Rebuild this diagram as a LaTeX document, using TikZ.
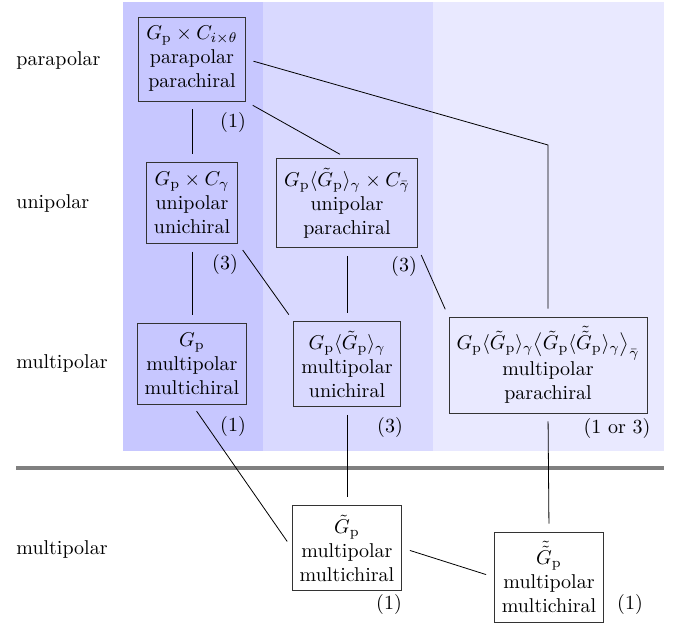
\documentclass[tikz,border=0pt]{standalone}
\usepackage{amsmath,amssymb}
\usepackage{tikz}
\usetikzlibrary{calc}
\usepackage{xcolor}
\definecolor{bandone}{RGB}{199,199,255}
\definecolor{bandtwo}{RGB}{217,217,255}
\definecolor{bandthree}{RGB}{233,233,255}
\newcommand{\Gp}{G_{\mathrm{p}}}
\newcommand{\Gpt}{\tilde{G}_{\mathrm{p}}}
\newcommand{\Gptt}{\tilde{\tilde{G}}_{\mathrm{p}}}

\begin{document}
\begin{tikzpicture}[x=0.5pt,y=-0.5pt,
  box/.style={draw=black!80, align=center, inner xsep=3.8pt, inner ysep=4.6pt},
  link/.style={shorten <=4pt, shorten >=4pt},
  rowlabel/.style={anchor=west, inner sep=0pt}]
  \useasboundingbox (0,0) rectangle (688,627);
  % shaded bands
  \fill[bandone] (123,2) rectangle (263,451);
  \fill[bandtwo] (263,2) rectangle (433,451);
  \fill[bandthree] (433,2) rectangle (664,451);
  \draw[line width=1.6pt, black!50] (16,468) -- (664,468);
  % row labels
  \node[rowlabel] (rpara) at (16,60) {parapolar};
  \node[rowlabel] (runi) at (16,203) {unipolar};
  \node[rowlabel] (rmulti) at (16,363) {multipolar};
  \node[rowlabel] (rmultib) at (16,549) {multipolar};
  % boxes
  \node[box] (A) at (192,59) {$\Gp\times C_{i\times\theta}$\\parapolar\\parachiral};
  \node[box] (B) at (192,203) {$\Gp\times C_{\gamma}$\\unipolar\\unichiral};
  \node[box] (C) at (347,203) {$\Gp\langle\Gpt\rangle_{\gamma}\times C_{\bar\gamma}$\\unipolar\\parachiral};
  \node[box] (D) at (192,364) {$\Gp$\\multipolar\\multichiral};
  \node[box] (E) at (347,364) {$\Gp\langle\Gpt\rangle_{\gamma}$\\multipolar\\unichiral};
  \node[box] (F) at (548,365) {$\Gp\langle\Gpt\rangle_{\gamma}\big\langle\Gpt\langle\Gptt\rangle_{\gamma}\big\rangle_{\bar\gamma}$\\multipolar\\parachiral};
  \node[box] (G) at (347,548) {$\Gpt$\\multipolar\\multichiral};
  \node[box] (H) at (549,577) {$\Gptt$\\multipolar\\multichiral};
  % counts
  \node (nA) at (233,122) {(1)};
  \node (nB) at (225,264) {(3)};
  \node (nC) at (404,266) {(3)};
  \node (nD) at (233,426) {(1)};
  \node (nE) at (390,427) {(3)};
  \node (nF) at (617,428) {(1 or 3)};
  \node (nG) at (389,604) {(1)};
  \node (nH) at (630,604) {(1)};
  % connections
  \coordinate (bend) at (548,145);
  \draw[link] (B.north |- A.south) -- (B.north);
  \draw[link] (A.south east) -- (C.north);
  \draw[link] (A.east) -- (bend) -- (F.north);
  \draw[link] (B.south) -- (D.north);
  \draw[link] (B.south east) -- (E.north west);
  \draw[link] (C.south) -- (E.north);
  \draw[link] (C.south east) -- (F.north west);
  \draw[link] (D.south) -- (G.west);
  \draw[link] (E.south) -- (G.north);
  \draw[link] (F.south) -- (H.north);
  \draw[link] (G.east) -- (H.west);
\end{tikzpicture}
\end{document}
